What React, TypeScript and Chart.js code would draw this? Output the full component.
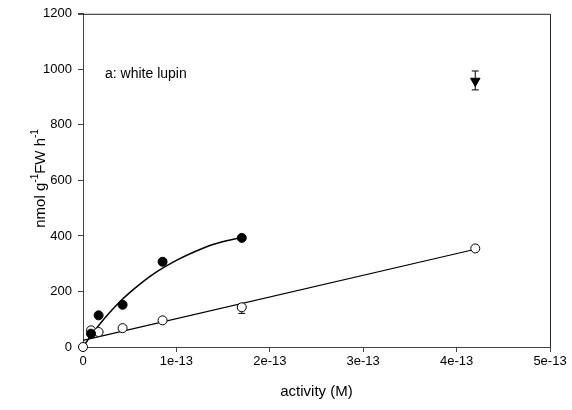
import React, { useEffect, useRef } from "react";
import { Chart, registerables } from "chart.js";

Chart.register(...registerables);

// Activity values (M)
const filledX = [0.086e-13, 0.167e-13, 0.424e-13, 0.852e-13, 1.7e-13];
const filledY = [48, 114, 152, 307, 393];
const filledErr = [6, 8, 8, 9, 5];

const openX = [0, 0.086e-13, 0.167e-13, 0.424e-13, 0.852e-13, 1.7e-13, 4.2e-13];
const openY = [0, 60, 54, 68, 96, 143, 355];
const openErrLow = [0, 4, 4, 5, 6, 22, 5];
const openErrHigh = [0, 4, 4, 5, 6, 8, 5];

const triX = [4.2e-13];
const triY = [958];
const triErrLow = [32];
const triErrHigh = [36];

// fitted curve
const curveX = [0, 0.1e-13, 0.2e-13, 0.3e-13, 0.4e-13, 0.5e-13, 0.6e-13, 0.8e-13, 1.0e-13, 1.2e-13, 1.4e-13, 1.7e-13];
const curveY = [0, 48, 91, 130, 165, 196, 224, 273, 312, 344, 370, 395];

// linear fit line
const lineX = [0, 4.2e-13];
const lineY = [24, 352];

const xTickLabels = ["0", "1e-13", "2e-13", "3e-13", "4e-13", "5e-13"];
const yTicks = [0, 200, 400, 600, 800, 1000, 1200];

const FONT = "'Liberation Sans', Arial, sans-serif";

const pts = (xs: number[], ys: number[]) => xs.map((x, i) => ({ x, y: ys[i] }));

export default function App() {
  const ref = useRef<HTMLCanvasElement | null>(null);
  useEffect(() => {
    if (!ref.current) return;
    const errPlugin = {
      id: "errbars",
      beforeDatasetsDraw(chart: any) {
        const { ctx, scales } = chart;
        const xs = scales.x, ys = scales.y;
        ctx.save();
        ctx.strokeStyle = "#000";
        ctx.lineWidth = 1;
        const bar = (x: number, lo: number, hi: number) => {
          const px = xs.getPixelForValue(x);
          const p1 = ys.getPixelForValue(lo);
          const p2 = ys.getPixelForValue(hi);
          ctx.beginPath();
          ctx.moveTo(px, p1);
          ctx.lineTo(px, p2);
          ctx.moveTo(px - 3.5, p1);
          ctx.lineTo(px + 3.5, p1);
          ctx.moveTo(px - 3.5, p2);
          ctx.lineTo(px + 3.5, p2);
          ctx.stroke();
        };
        filledX.forEach((x, i) => bar(x, filledY[i] - filledErr[i], filledY[i] + filledErr[i]));
        openX.forEach((x, i) => {
          if (openErrLow[i] || openErrHigh[i]) bar(x, openY[i] - openErrLow[i], openY[i] + openErrHigh[i]);
        });
        triX.forEach((x, i) => bar(x, triY[i] - triErrLow[i], triY[i] + triErrHigh[i]));
        ctx.restore();
      },
      afterDraw(chart: any) {
        const { ctx, chartArea } = chart;
        ctx.save();
        ctx.strokeStyle = "#222";
        ctx.lineWidth = 1;
        ctx.beginPath();
        ctx.moveTo(chartArea.left - 5, chartArea.top + 0.5);
        ctx.lineTo(chartArea.right + 0.5, chartArea.top + 0.5);
        ctx.lineTo(chartArea.right + 0.5, chartArea.bottom);
        ctx.stroke();
        // annotation
        ctx.fillStyle = "#000";
        ctx.font = `14px ${FONT}`;
        ctx.textBaseline = "middle";
        ctx.textAlign = "left";
        ctx.fillText("a: white lupin", chartArea.left + 22, chartArea.top + 60);
        // y title with superscripts
        const cx = 39;
        const cy = (chartArea.top + chartArea.bottom) / 2 - 2;
        ctx.translate(cx, cy);
        ctx.rotate(-Math.PI / 2);
        const parts: [string, boolean][] = [["nmol g", false], ["-1", true], ["FW h", false], ["-1", true]];
        const big = `15px ${FONT}`, small = `10px ${FONT}`;
        let total = 0;
        parts.forEach(([t, s]) => { ctx.font = s ? small : big; total += ctx.measureText(t).width; });
        let x = -total / 2;
        ctx.textAlign = "left";
        ctx.textBaseline = "alphabetic";
        parts.forEach(([t, s]) => {
          ctx.font = s ? small : big;
          ctx.fillText(t, x, s ? -1 : 5.5);
          x += ctx.measureText(t).width;
        });
        ctx.restore();
      },
    };

    const chart = new Chart(ref.current, {
      type: "scatter",
      data: {
        datasets: [
          {
            label: "triangle",
            data: pts(triX, triY),
            pointStyle: "triangle",
            rotation: 180,
            pointRadius: 5.5,
            backgroundColor: "#000",
            borderColor: "#000",
            borderWidth: 1,
            showLine: false,
            clip: false,
          } as any,
          {
            label: "filled",
            data: pts(filledX, filledY),
            pointRadius: 4.5,
            backgroundColor: "#000",
            borderColor: "#000",
            borderWidth: 1,
            showLine: false,
            clip: false,
          },
          {
            label: "open",
            data: pts(openX, openY),
            pointRadius: 4.5,
            backgroundColor: "#fff",
            borderColor: "#000",
            borderWidth: 1,
            showLine: false,
            clip: false,
          },
          {
            label: "curve",
            data: pts(curveX, curveY),
            showLine: true,
            pointRadius: 0,
            borderColor: "#000",
            borderWidth: 1.5,
            cubicInterpolationMode: "monotone",
            clip: false,
          } as any,
          {
            label: "line",
            data: pts(lineX, lineY),
            showLine: true,
            pointRadius: 0,
            borderColor: "#000",
            borderWidth: 1.2,
            clip: false,
          },
        ],
      },
      options: {
        animation: false,
        responsive: false,
        maintainAspectRatio: false,
        events: [],
        layout: { padding: { left: 0, right: 22, top: 12, bottom: 0 } },
        plugins: { legend: { display: false }, tooltip: { enabled: false } },
        scales: {
          x: {
            type: "linear",
            min: 0,
            max: 5e-13,
            afterFit: (s: any) => { s.height = 63; },
            afterBuildTicks: (s: any) => {
              s.ticks = xTickLabels.map((_, i) => ({ value: i * 1e-13 }));
            },
            ticks: {
              color: "#000",
              font: { family: FONT, size: 13 },
              padding: 2,
              maxRotation: 0,
              callback: (_v: any, i: number) => xTickLabels[i],
            },
            grid: { display: true, drawOnChartArea: false, drawTicks: true, tickLength: 5, color: "#444" } as any,
            border: { color: "#444", width: 1 },
            title: {
              display: true,
              text: "activity (M)",
              color: "#000",
              font: { family: FONT, size: 15 },
              padding: { top: 0, bottom: 9 },
            },
          },
          y: {
            type: "linear",
            min: 0,
            max: 1200,
            afterFit: (s: any) => { s.width = 83; },
            afterBuildTicks: (s: any) => {
              s.ticks = yTicks.map((v) => ({ value: v }));
            },
            ticks: {
              color: "#000",
              font: { family: FONT, size: 13 },
              padding: 6,
              callback: (v: any) => String(v),
            },
            grid: { display: true, drawOnChartArea: false, drawTicks: true, tickLength: 5, color: "#444" },
            border: { color: "#444", width: 1 },
          },
        },
      },
      plugins: [errPlugin],
    });
    return () => chart.destroy();
  }, []);

  return (
    <div style={{ position: "fixed", left: 0, top: 0, width: 572, height: 410, background: "#fff" }}>
      <canvas ref={ref} width={572} height={410} style={{ width: 572, height: 410 }} />
    </div>
  );
}
